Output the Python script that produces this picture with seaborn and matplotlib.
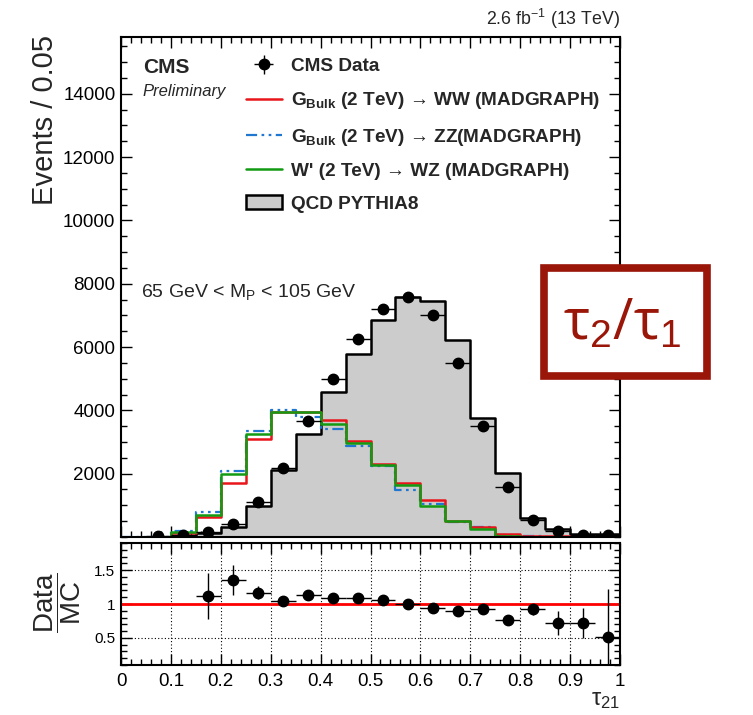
import numpy as np
import pandas as pd
import matplotlib
matplotlib.use("Agg")
import matplotlib.pyplot as plt
import seaborn as sns
from matplotlib.lines import Line2D
from matplotlib.patches import Patch, Rectangle
from matplotlib.ticker import MultipleLocator

# tau21 binning (width 0.05)
bin_edges = [round(0.05 * i, 3) for i in range(21)]
bin_centers = [round(0.05 * i + 0.025, 4) for i in range(20)]

# QCD PYTHIA8 (events / 0.05)
qcd = [0, 0, 0, 135, 300, 970, 2100, 3260, 4590, 5770,
       6850, 7590, 7470, 6220, 3760, 2030, 610, 250, 80, 100]
# signals
g_ww = [0, 0, 140, 625, 1700, 3080, 3940, 3940, 3710, 3030,
        2290, 1700, 1160, 520, 300, 100, 30, 20, 10, 10]
g_zz = [0, 0, 200, 780, 2070, 3350, 4010, 3800, 3400, 2870,
        2240, 1490, 1040, 470, 310, 60, 20, 10, 5, 5]
wp_wz = [0, 0, 150, 700, 2000, 3250, 3940, 3940, 3570, 2980,
         2260, 1650, 970, 500, 250, 20, 10, 10, 5, 5]

# CMS data
data_x = [0.075, 0.125, 0.175, 0.225, 0.275, 0.325, 0.375, 0.425, 0.475,
          0.525, 0.575, 0.625, 0.675, 0.725, 0.775, 0.825, 0.875, 0.925, 0.975]
data_y = [40, 50, 150, 410, 1120, 2180, 3670, 5000, 6260,
          7200, 7590, 7000, 5510, 3510, 1570, 550, 190, 60, 55]

# Data / MC
ratio_x = data_x[2:]
ratio = [1.12, 1.36, 1.17, 1.04, 1.13, 1.09, 1.09, 1.06, 1.00,
         0.94, 0.89, 0.93, 0.77, 0.92, 0.72, 0.72, 0.52]
ratio_err = [0.34, 0.22, 0.10, 0.03, 0.03, 0.02, 0.02, 0.02, 0.02,
             0.02, 0.02, 0.03, 0.03, 0.08, 0.17, 0.22, 0.70]

hists = pd.DataFrame({"tau21": bin_centers, "qcd": qcd, "ww": g_ww,
                      "zz": g_zz, "wz": wp_wz})

sns.set_theme(style="ticks")
plt.rcParams["font.family"] = ["Liberation Sans", "DejaVu Sans"]
plt.rcParams["mathtext.fontset"] = "custom"
plt.rcParams["mathtext.rm"] = "Liberation Sans"
plt.rcParams["mathtext.it"] = "Liberation Sans:italic"
plt.rcParams["mathtext.bf"] = "Liberation Sans:bold"
plt.rcParams["axes.linewidth"] = 1.5
plt.rcParams["axes.edgecolor"] = "black"

RED = "#e8151b"
BLUE = "#1f77d0"
GREEN = "#139a13"
DASHDOT = (0, (5, 2, 1.2, 2, 1.2, 2))

fig = plt.figure(figsize=(7.53, 7.15), dpi=100)
ax = fig.add_axes([0.1607, 0.2490, 0.6627, 0.6995])
ax2 = fig.add_axes([0.1607, 0.0699, 0.6627, 0.1706])

sns.histplot(data=hists, x="tau21", weights="qcd", bins=bin_edges, element="step",
             fill=True, color="#cccccc", alpha=1, edgecolor="black", linewidth=1.8, ax=ax)
sns.histplot(data=hists, x="tau21", weights="zz", bins=bin_edges, element="step",
             fill=False, color=BLUE, linewidth=1.6, linestyle=DASHDOT, ax=ax)
sns.histplot(data=hists, x="tau21", weights="ww", bins=bin_edges, element="step",
             fill=False, color=RED, linewidth=1.8, ax=ax)
sns.histplot(data=hists, x="tau21", weights="wz", bins=bin_edges, element="step",
             fill=False, color=GREEN, linewidth=1.8, ax=ax)
data_art = ax.errorbar(data_x, data_y, xerr=0.025, yerr=np.sqrt(data_y), fmt="o",
                       color="black", markersize=7.5, elinewidth=1, capsize=0, zorder=5)

ax.set_xlim(0, 1)
ax.set_ylim(0, 15800)
ax.set_xlabel("")
ax.set_ylabel("")
ax.set_yticks(np.arange(2000, 15000, 2000))
ax.yaxis.set_minor_locator(MultipleLocator(500))
ax.xaxis.set_major_locator(MultipleLocator(0.1))
ax.xaxis.set_minor_locator(MultipleLocator(0.02))
ax.tick_params(axis="x", labelbottom=False)
ax.tick_params(which="both", direction="in", top=True, right=True, width=1, colors="black")
ax.tick_params(which="major", length=8)
ax.tick_params(which="minor", length=4)
ax.tick_params(axis="y", labelsize=13.5, pad=4)

handles = [data_art,
           Line2D([], [], color=RED, lw=1.8),
           Line2D([], [], color=BLUE, lw=1.6, ls=DASHDOT),
           Line2D([], [], color=GREEN, lw=1.8),
           Patch(facecolor="#cccccc", edgecolor="black", lw=1.8)]
labels = ["CMS Data",
          r"G$_{\mathbf{Bulk}}$ (2 TeV) → WW (MADGRAPH)",
          r"G$_{\mathbf{Bulk}}$ (2 TeV) → ZZ(MADGRAPH)",
          "W' (2 TeV) → WZ (MADGRAPH)",
          "QCD PYTHIA8"]
ax.legend(handles, labels, loc="upper left", bbox_to_anchor=(0.25, 0.958),
          frameon=False, prop={"weight": "bold", "size": 13.7},
          handlelength=1.9, handletextpad=0.5, labelspacing=0.8,
          borderpad=0, borderaxespad=0)

ax.text(0.044, 0.958, "CMS", transform=ax.transAxes, fontsize=15,
        fontweight="bold", va="top", ha="left")
ax.text(0.044, 0.905, "Preliminary", transform=ax.transAxes, fontsize=12,
        style="italic", va="top", ha="left")
ax.text(0.04, 0.49, r"65 GeV < M$_{\mathrm{P}}$ < 105 GeV", transform=ax.transAxes,
        fontsize=14, va="center", ha="left")
ax.text(1.0, 1.012, r"2.6 fb$^{-1}$ (13 TeV)", transform=ax.transAxes,
        fontsize=12.8, va="bottom", ha="right")

# ratio panel
ax2.axhline(1.0, color="#ff0000", lw=2, zorder=2)
ax2.errorbar(ratio_x, ratio, xerr=0.025, yerr=ratio_err, fmt="o", color="black",
             markersize=7.5, elinewidth=1, capsize=0, zorder=5)
ax2.set_xlim(0, 1)
ax2.set_ylim(0.1, 1.9)
ax2.set_yticks([0.5, 1, 1.5])
ax2.set_yticklabels(["0.5", "1", "1.5"])
ax2.yaxis.set_minor_locator(MultipleLocator(0.1))
ax2.set_xticks([0.1 * i for i in range(11)])
ax2.set_xticklabels(["0", "0.1", "0.2", "0.3", "0.4", "0.5", "0.6", "0.7", "0.8", "0.9", "1"])
ax2.xaxis.set_minor_locator(MultipleLocator(0.02))
ax2.grid(True, which="major", color="black", ls=(0, (1, 2)), lw=0.8)
ax2.tick_params(which="both", direction="in", top=True, right=True, width=1, colors="black")
ax2.tick_params(which="major", length=8)
ax2.tick_params(which="minor", length=4)
ax2.tick_params(axis="y", labelsize=11, pad=4)
ax2.tick_params(axis="x", labelsize=13.5, pad=6)

fig.text(0.060, 0.951, "Events / 0.05", rotation=90, fontsize=21, ha="center", va="top")
fig.text(0.077, 0.157, r"$\dfrac{\mathrm{Data}}{\mathrm{MC}}$", rotation=90,
         fontsize=20, ha="center", va="center")
fig.text(0.823, 0.014, r"τ$_{21}$", fontsize=17, ha="right", va="baseline")

# tau2/tau1 box
fig.patches.append(Rectangle((0.7218, 0.4748), 0.2165, 0.1497, transform=fig.transFigure,
                             facecolor="white", edgecolor="#9a1609", lw=5.5, zorder=10))
fig.text(0.826, 0.546, r"τ$_{2}$/τ$_{1}$", fontsize=40, color="#9a1609",
         family="Open Sans", ha="center", va="center", zorder=11)

fig.savefig("out.png", dpi=100)
